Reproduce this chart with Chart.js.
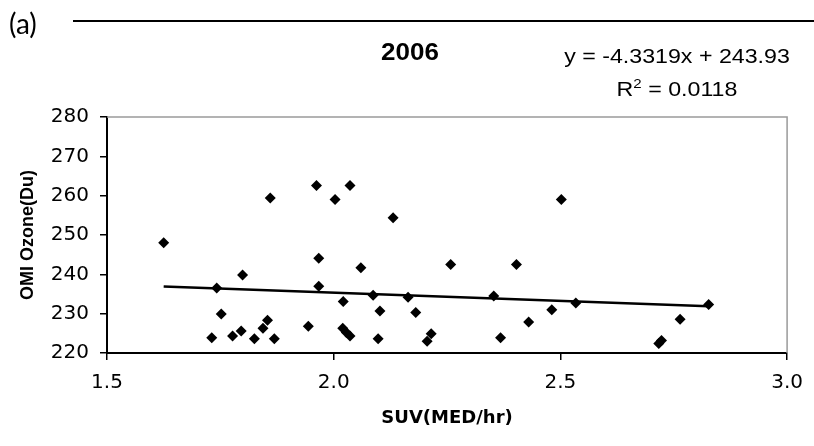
<!DOCTYPE html>
<html>
<head>
<meta charset="utf-8">
<script src="https://cdn.jsdelivr.net/npm/chart.js@4/dist/chart.umd.min.js"></script>
<style>
  html, body { margin: 0; padding: 0; background: #fff; }
  #wrap { position: relative; width: 814px; height: 446px; overflow: hidden; }
  #c { position: absolute; left: 0; top: 0; }
  .txt { position: absolute; white-space: nowrap; color: #000; }
  #panel { left: 9px; top: 9px; font: 28px/28px Lato, "Open Sans", sans-serif; }
  #rule { position: absolute; left: 73px; top: 19.7px; width: 741px; height: 2px; background: #000; }
  #title { left: 310px; width: 200px; top: 41px; text-align: center; font: bold 23px/23px "Liberation Sans", Arial, sans-serif; transform: scaleX(1.13); transform-origin: center; }
  .eq { left: 477px; width: 400px; text-align: center; font: 20px/20px "Liberation Sans", Arial, sans-serif; transform: scaleX(1.16); transform-origin: center; }
  #eq1 { top: 45.7px; }
  #eq2 { top: 78.9px; }
  sup { font-size: 13px; line-height: 0; vertical-align: 8px; }
</style>
</head>
<body>
<div id="wrap">
  <canvas id="c" width="814" height="446"></canvas>
  <div class="txt" id="panel">(a)</div>
  <div id="rule"></div>
  <div class="txt" id="title">2006</div>
  <div class="txt eq" id="eq1">y = -4.3319x + 243.93</div>
  <div class="txt eq" id="eq2">R<sup>2</sup> = 0.0118</div>
</div>
<script>
// ---- data ----
const suvValues = [1.625, 1.742, 1.752, 1.731, 1.799, 1.777, 1.796, 1.825, 1.844, 1.854,
  1.869, 1.860, 1.944, 1.962, 1.967, 1.967, 2.003, 2.021, 2.020, 2.028,
  2.036, 2.036, 2.131, 2.060, 2.087, 2.102, 2.098, 2.164, 2.181, 2.215,
  2.206, 2.258, 2.353, 2.368, 2.403, 2.430, 2.481, 2.502, 2.534, 2.717,
  2.723, 2.764, 2.827];
const ozoneValues = [248.0, 236.5, 229.9, 223.9, 239.8, 224.3, 225.6, 223.6, 226.3, 228.3,
  223.6, 259.4, 226.8, 262.6, 244.1, 237.0, 259.0, 233.1, 226.3, 225.2,
  224.3, 262.6, 254.4, 241.7, 234.7, 230.7, 223.6, 234.2, 230.3, 224.9,
  223.0, 242.5, 234.5, 223.9, 242.5, 227.9, 231.0, 259.0, 232.7, 222.4,
  223.2, 228.6, 232.3];
const trendX = [1.625, 2.827];
const trendY = [236.9, 231.9];
const xTickValues = [1.5, 2.0, 2.5, 3.0];
const yTickValues = [220, 230, 240, 250, 260, 270, 280];
const xAxisTitle = 'SUV(MED/hr)';
const yAxisTitle = 'OMI Ozone(Du)';

const scatterPoints = suvValues.map((x, i) => ({ x: x, y: ozoneValues[i] }));
const trendPoints = trendX.map((x, i) => ({ x: x, y: trendY[i] }));

const frameBorder = {
  id: 'frameBorder',
  afterDatasetsDraw(chart) {
    const { ctx, chartArea: a } = chart;
    ctx.save();
    ctx.strokeStyle = '#9a9a9a';
    ctx.lineWidth = 1.5;
    ctx.beginPath();
    ctx.moveTo(a.left, a.top);
    ctx.lineTo(a.right, a.top);
    ctx.lineTo(a.right, a.bottom);
    ctx.stroke();
    ctx.restore();
  }
};

new Chart(document.getElementById('c'), {
  type: 'scatter',
  data: {
    datasets: [
      {
        type: 'line',
        data: trendPoints,
        borderColor: '#000',
        borderWidth: 2.5,
        pointRadius: 0,
        fill: false,
        tension: 0,
        order: 2
      },
      {
        data: scatterPoints,
        backgroundColor: '#000',
        borderColor: '#000',
        borderWidth: 0,
        pointStyle: 'rectRot',
        pointRadius: 5.5,
        order: 1
      }
    ]
  },
  plugins: [frameBorder],
  options: {
    responsive: false,
    animation: false,
    devicePixelRatio: 1,
    layout: { padding: { left: 0, top: 117, right: 20, bottom: 0 } },
    plugins: { legend: { display: false }, tooltip: { enabled: false }, title: { display: false } },
    scales: {
      x: {
        type: 'linear',
        min: 1.5, max: 3.0,
        afterBuildTicks(scale) { scale.ticks = xTickValues.map(v => ({ value: v })); },
        afterFit(scale) { scale.height = 93; },
        ticks: {
          color: '#000',
          padding: 11,
          font: { family: 'DejaVu Sans', size: 20 },
          callback: v => Number(v).toFixed(1)
        },
        grid: { display: true, drawOnChartArea: false, drawTicks: true, tickLength: 7, color: '#000', lineWidth: 1.5 },
        border: { display: true, color: '#000', width: 2 },
        title: {
          display: true, text: xAxisTitle, color: '#000',
          font: { family: 'DejaVu Sans', size: 18, weight: 'bold' },
          padding: { top: 0, bottom: 17 }
        }
      },
      y: {
        type: 'linear',
        min: 220, max: 280,
        afterBuildTicks(scale) { scale.ticks = yTickValues.map(v => ({ value: v })); },
        afterFit(scale) { scale.width = 107; },
        ticks: {
          color: '#000',
          padding: 11,
          font: { family: 'DejaVu Sans', size: 20 }
        },
        grid: { display: true, drawOnChartArea: false, drawTicks: true, tickLength: 7, color: '#000', lineWidth: 1.5 },
        border: { display: true, color: '#000', width: 2 },
        title: {
          display: true, text: yAxisTitle, color: '#000',
          font: { family: 'Liberation Sans', size: 18, weight: 'bold' },
          padding: { top: 17, bottom: 0 }
        }
      }
    }
  }
});
</script>
</body>
</html>
